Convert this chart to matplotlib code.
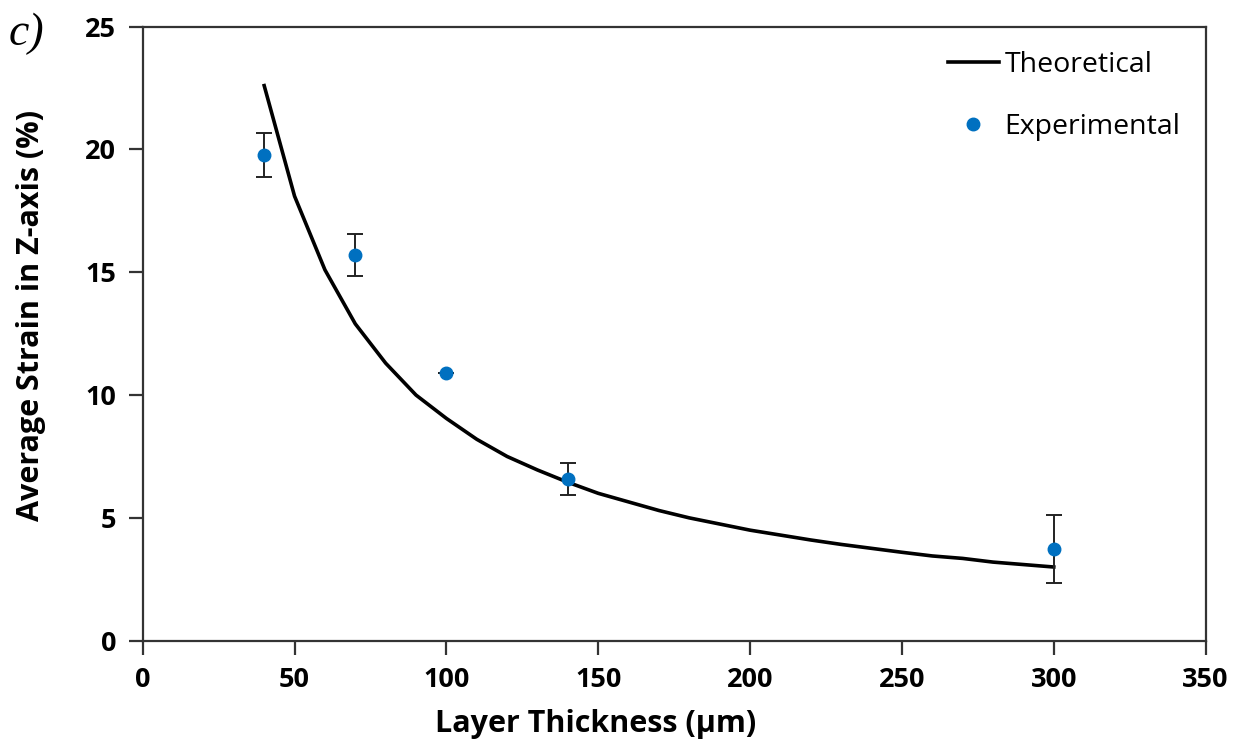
import matplotlib
matplotlib.use("Agg")
import matplotlib.pyplot as plt

# --------- data ---------------------------------
theory_x = [40, 50, 60, 70, 80, 90, 100, 110, 120, 130, 140, 150, 160, 170, 180,
            190, 200, 210, 220, 230, 240, 250, 260, 270, 280, 290, 300]
theory_y = [22.6, 18.1, 15.1, 12.9, 11.3, 10.0, 9.05, 8.2, 7.5, 6.95, 6.45, 6.0,
            5.65, 5.3, 5.0, 4.75, 4.5, 4.3, 4.1, 3.92, 3.76, 3.6, 3.45, 3.35,
            3.2, 3.1, 3.0]

exp_x = [40, 70, 100, 140, 300]
exp_y = [19.78, 15.7, 10.9, 6.58, 3.73]
exp_err = [0.9, 0.85, 0.0, 0.65, 1.4]

x_ticks = [0, 50, 100, 150, 200, 250, 300, 350]
y_ticks = [0, 5, 10, 15, 20, 25]

BLUE = "#0070c0"
FONT = ["Open Sans", "DejaVu Sans"]

plt.rcParams["font.family"] = FONT

fig = plt.figure(figsize=(12.42, 7.49), dpi=100)
ax = fig.add_axes([0.1149, 0.1446, 0.9707 - 0.1149, 0.9644 - 0.1446])

ax.plot(theory_x, theory_y, color="black", lw=2.6, label="Theoretical", zorder=2)
ax.errorbar(exp_x, exp_y, yerr=exp_err, fmt="none", ecolor="#222222",
            elinewidth=1.4, capsize=6, capthick=1.4, zorder=3)
ax.plot(exp_x, exp_y, "o", color=BLUE, ms=9, ls="none", label="Experimental",
        zorder=4)

ax.set_xlim(0, 350)
ax.set_ylim(0, 25)
ax.set_xticks(x_ticks)
ax.set_yticks(y_ticks)

for s in ax.spines.values():
    s.set_color("#333333")
    s.set_linewidth(1.6)

ax.tick_params(direction="out", length=10, width=1.6, color="#333333",
               labelsize=19.5, pad=9)
for lab in ax.get_xticklabels() + ax.get_yticklabels():
    lab.set_fontweight("bold")

# Excel put the axis titles a bit off-centre
ax.set_xlabel("Layer Thickness (µm)", fontsize=22, fontweight="bold")
ax.xaxis.set_label_coords(0.4265, -0.112)
ax.set_ylabel("Average Strain in Z-axis (%)", fontsize=22, fontweight="bold")
ax.yaxis.set_label_coords(-0.091, 0.529)

ax.legend(loc="upper left", bbox_to_anchor=(0.752, 0.969), frameon=False,
          fontsize=20.5, handlelength=1.8, handletextpad=0.2, labelspacing=1.18,
          borderaxespad=0.0, borderpad=0.2)

fig.text(0.007, 0.955, "c)", fontsize=33, style="italic",
         family=["Liberation Serif", "DejaVu Serif"], va="center", ha="left")

fig.savefig("out.png", dpi=100)
